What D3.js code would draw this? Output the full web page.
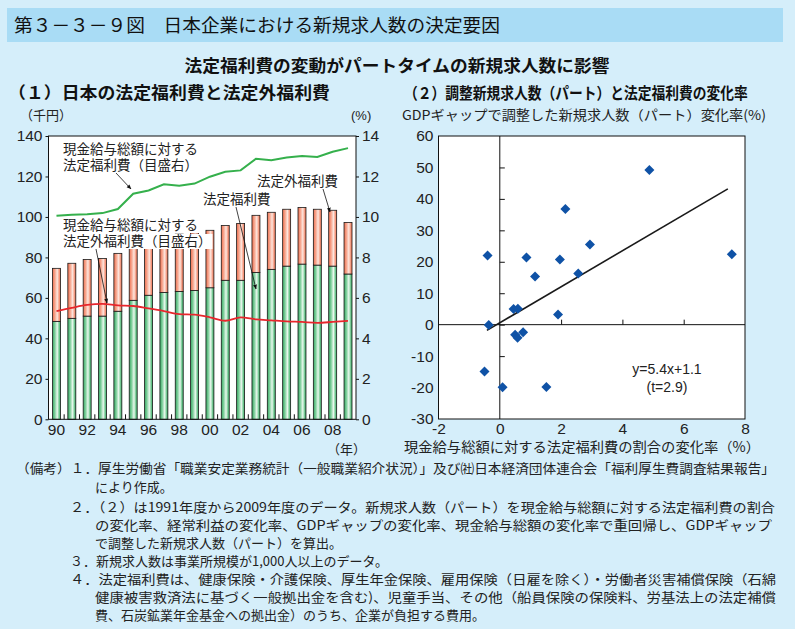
<!DOCTYPE html>
<html><head><meta charset="utf-8">
<script src="https://cdn.jsdelivr.net/npm/d3@7"></script>
<style>
body{margin:0;background:#d5eefa;}
svg{display:block}
text{font-family:"Liberation Sans","Noto Sans CJK JP",sans-serif;}
.jp{font-family:"Noto Sans CJK JP",sans-serif;}
</style>
</head><body>
<svg id="c" width="795" height="629"></svg>
<script>
// ---------- data ----------
const years = ["90","91","92","93","94","95","96","97","98","99","00","01","02","03","04","05","06","07","08","09"];
const yearTickLabels = ["90","92","94","96","98","00","02","04","06","08"];
const legalWelfare = [48.4,49.9,51.0,51.0,53.4,58.8,61.3,62.7,63.2,63.7,65.0,68.7,68.7,72.6,74.1,75.7,76.7,76.2,75.7,71.8];
const nonLegalWelfare = [26.2,27.2,28.0,28.5,28.6,27.2,28.7,28.3,28.3,28.5,28.4,27.1,28.1,28.2,28.2,28.1,28.0,27.6,27.6,25.5];
const legalRatio = [10.06,10.11,10.13,10.19,10.39,11.15,11.31,11.61,11.54,11.65,11.99,12.23,12.30,12.88,12.80,12.94,13.01,12.96,13.22,13.40];
const nonLegalRatio = [5.35,5.51,5.65,5.70,5.63,5.60,5.48,5.35,5.20,5.17,5.04,4.87,5.04,4.94,4.89,4.84,4.81,4.77,4.81,4.86];
const leftTicks = [0,20,40,60,80,100,120,140];
const rightTicks = [0,2,4,6,8,10,12,14];

const scatterX = [-0.40,-0.36,-0.50,0.09,0.45,0.59,0.50,0.58,0.76,0.87,1.15,1.90,1.96,2.14,1.52,2.56,2.94,4.88,7.57];
const scatterY = [22.0,-0.1,-14.9,-19.9,5.0,5.1,-3.2,-4.2,-2.4,21.4,15.3,3.2,20.7,36.8,-19.8,16.3,25.5,49.2,22.4];
const fitX = [-0.42,7.44];
const fitY = [-1.8,43.2];
const scatterXTicks = [-2,0,2,4,6,8];
const scatterYTicks = [-30,-20,-10,0,10,20,30,40,50,60];

const svg = d3.select("#c");
const defs = svg.append("defs");
const plain = d => String(d);

// gradients
function grad(id, edge, mid, light){
  const g = defs.append("linearGradient").attr("id",id).attr("x1","0").attr("x2","1").attr("y1","0").attr("y2","0");
  [[0,edge],[0.3,mid],[0.6,light],[0.8,mid],[1,edge]].forEach(([o,c])=>g.append("stop").attr("offset",o).attr("stop-color",c));
}
grad("gG","#36a862","#7fcf9c","#eaf8ee");
grad("gR","#f0704f","#f6a48c","#fde6de");
const mk = defs.append("marker").attr("id","arr").attr("viewBox","0 0 10 10").attr("refX",9).attr("refY",5)
  .attr("markerWidth",6).attr("markerHeight",6).attr("orient","auto");
mk.append("path").attr("d","M0,1L10,5L0,9Z").attr("fill","#111");

// ---------- header ----------
svg.append("rect").attr("x",7).attr("y",8).attr("width",776).attr("height",34).attr("fill","#a9dcf5");
svg.append("text").attr("class","jp").attr("x",14).attr("y",32).attr("font-size",18).attr("fill","#111")
  .attr("textLength",486).attr("lengthAdjust","spacingAndGlyphs")
  .text("第３－３－９図　日本企業における新規求人数の決定要因");
svg.append("text").attr("class","jp").attr("x",397).attr("y",72).attr("text-anchor","middle")
  .attr("font-size",16.5).attr("font-weight","bold").attr("fill","#111")
  .attr("textLength",425).attr("lengthAdjust","spacingAndGlyphs")
  .text("法定福利費の変動がパートタイムの新規求人数に影響");
svg.append("text").attr("class","jp").attr("x",8).attr("y",99).attr("font-size",16.5).attr("font-weight","bold").attr("fill","#111")
  .attr("textLength",322).attr("lengthAdjust","spacingAndGlyphs")
  .text("（１）日本の法定福利費と法定外福利費");
svg.append("text").attr("class","jp").attr("transform","translate(404,99) scale(0.86,1)")
  .attr("font-size",16).attr("font-weight","bold").attr("fill","#111")
  .text("（２）調整新規求人数（パート）と法定福利費の変化率");

// ---------- left chart ----------
const L = {x0:48.5, x1:356, y0:136, y1:419.3};
const xb = d3.scaleBand().domain(years).range([L.x0,L.x1]).paddingInner(0.48).paddingOuter(0.26);
const yl = d3.scaleLinear().domain([0,140]).range([L.y1,L.y0]);
const yr = d3.scaleLinear().domain([0,14]).range([L.y1,L.y0]);

svg.append("rect").attr("x",L.x0).attr("y",L.y0).attr("width",L.x1-L.x0).attr("height",L.y1-L.y0).attr("fill","#fff");

const tbl = years.map((y,i)=>({year:y, legal:legalWelfare[i], nonLegal:nonLegalWelfare[i]}));
const stack = d3.stack().keys(["legal","nonLegal"])(tbl);
const fills = {legal:"url(#gG)", nonLegal:"url(#gR)"};
stack.forEach(s=>{
  svg.append("g").selectAll("rect").data(s).join("rect")
    .attr("x",d=>xb(d.data.year)).attr("width",xb.bandwidth())
    .attr("y",d=>yl(d[1])).attr("height",d=>yl(d[0])-yl(d[1]))
    .attr("fill",fills[s.key]).attr("stroke","#1a1a1a").attr("stroke-width",0.8);
});

const cx = d=>xb(d)+xb.bandwidth()/2;
svg.append("path").datum(nonLegalRatio).attr("fill","none").attr("stroke","#e8262c").attr("stroke-width",1.8)
  .attr("d",d3.line().x((d,i)=>cx(years[i])).y(d=>yr(d)).curve(d3.curveMonotoneX));
svg.append("path").datum(legalRatio).attr("fill","none").attr("stroke","#35b04c").attr("stroke-width",2)
  .attr("d",d3.line().x((d,i)=>cx(years[i])).y(d=>yr(d)));

// frame
svg.append("rect").attr("x",L.x0).attr("y",L.y0).attr("width",L.x1-L.x0).attr("height",L.y1-L.y0)
  .attr("fill","none").attr("stroke","#111").attr("stroke-width",1);

// axes
const ga = svg.append("g").attr("transform",`translate(${L.x0},0)`)
  .call(d3.axisLeft(yl).tickValues(leftTicks).tickSize(3).tickPadding(3).tickFormat(plain));
const gb = svg.append("g").attr("transform",`translate(${L.x1},0)`)
  .call(d3.axisRight(yr).tickValues(rightTicks).tickSize(3).tickPadding(3).tickFormat(plain));
[ga,gb].forEach(g=>{g.select(".domain").remove(); g.selectAll("line").attr("stroke","#111");
  g.selectAll("text").attr("font-size",15.5).attr("fill","#222").attr("font-family","Liberation Sans, sans-serif");});
// bottom: boundary ticks + labels
const step = xb.step();
const bounds = years.slice(1).map(y=>xb(y)-(step-xb.bandwidth())/2);
svg.append("g").selectAll("line").data(bounds).join("line")
  .attr("x1",d=>d).attr("x2",d=>d).attr("y1",L.y1).attr("y2",L.y1-5).attr("stroke","#111");
const gx = svg.append("g").attr("transform",`translate(0,${L.y1})`)
  .call(d3.axisBottom(xb).tickValues(yearTickLabels).tickSize(0).tickPadding(5));
gx.select(".domain").remove();
gx.selectAll("text").attr("font-size",15.5).attr("fill","#222").attr("font-family","Liberation Sans, sans-serif");

svg.append("text").attr("class","jp").attr("x",20).attr("y",120).attr("font-size",13).attr("fill","#222").text("（千円）");
svg.append("text").attr("x",351).attr("y",120).attr("font-size",13).attr("fill","#222").text("(%)");
svg.append("text").attr("class","jp").attr("x",327).attr("y",454).attr("font-size",13).attr("fill","#222").text("（年）");

// annotations (multi-line labels as one text with tspans, white box behind each line)
function label(x,y,lines){
  const g = svg.append("g");
  const tx = g.append("text").attr("class","jp").attr("x",x).attr("y",y).attr("font-size",13.5).attr("fill","#222");
  lines.forEach((t,i)=>tx.append("tspan").attr("x",x).attr("dy",i?16:0).text(t));
  tx.selectAll("tspan").each(function(){
    const n=this, len=n.getComputedTextLength(), yy=+d3.select(n.parentNode).attr("y");
  });
  lines.forEach((t,i)=>{
    const w = tx.selectAll("tspan").nodes()[i].getComputedTextLength();
    g.insert("rect","text").attr("x",x-1).attr("y",y+i*16-12).attr("width",w+2).attr("height",15).attr("fill","#fff");
  });
}
function arrow(x1,y1,x2,y2){
  svg.append("line").attr("x1",x1).attr("y1",y1).attr("x2",x2).attr("y2",y2)
    .attr("stroke","#111").attr("stroke-width",0.8).attr("marker-end","url(#arr)");
}
label(63,154,["現金給与総額に対する","法定福利費（目盛右）"]);
label(257,186,["法定外福利費"]);
label(203,204,["法定福利費"]);
label(63,230,["現金給与総額に対する","法定外福利費（目盛右）"]);
arrow(116,173,131,189);
arrow(323,189,330,212);
arrow(236,207,256,289);
arrow(96,249,107,303);

// ---------- right chart ----------
const R = {x0:438.5, x1:745, y0:136, y1:419};
const xs = d3.scaleLinear().domain([-2,8]).range([R.x0,R.x1]);
const ys = d3.scaleLinear().domain([-30,60]).range([R.y1,R.y0]);
svg.append("rect").attr("x",R.x0).attr("y",R.y0).attr("width",R.x1-R.x0).attr("height",R.y1-R.y0)
  .attr("fill","#fff").attr("stroke","#111").attr("stroke-width",1);
// inner axes through zero
const gy0 = svg.append("g").attr("transform",`translate(${xs(0)},0)`)
  .call(d3.axisRight(ys).tickValues(scatterYTicks.filter(v=>v>-30&&v<60)).tickSize(5).tickFormat(""));
gy0.select(".domain").attr("d",`M0,${R.y0}V${R.y1}`).attr("stroke","#111");
gy0.selectAll("line").attr("stroke","#111");
const gx0 = svg.append("g").attr("transform",`translate(0,${ys(0)})`)
  .call(d3.axisTop(xs).tickValues([2,4,6]).tickSize(5).tickFormat(""));
gx0.select(".domain").attr("d",`M${R.x0},0H${R.x1}`).attr("stroke","#111");
gx0.selectAll("line").attr("stroke","#111");
// labels on frame
const gyl = svg.append("g").attr("transform",`translate(${R.x0},0)`)
  .call(d3.axisLeft(ys).tickValues(scatterYTicks).tickSize(0).tickPadding(5).tickFormat(plain));
const gxl = svg.append("g").attr("transform",`translate(0,${R.y1})`)
  .call(d3.axisBottom(xs).tickValues(scatterXTicks).tickSize(0).tickPadding(4).tickFormat(plain));
[gyl,gxl].forEach(g=>{g.select(".domain").remove();
  g.selectAll("text").attr("font-size",15.5).attr("fill","#222").attr("font-family","Liberation Sans, sans-serif");});

// fit line
svg.append("path").datum(fitX.map((x,i)=>[x,fitY[i]])).attr("fill","none").attr("stroke","#1a1a1a").attr("stroke-width",1.6)
  .attr("d",d3.line().x(d=>xs(d[0])).y(d=>ys(d[1])));
// points
svg.append("g").selectAll("path").data(scatterX.map((x,i)=>[x,scatterY[i]])).join("path")
  .attr("transform",d=>`translate(${xs(d[0])},${ys(d[1])})`)
  .attr("d","M0,-5L5,0L0,5L-5,0Z").attr("fill","#0f52a6");

const eq = svg.append("text").attr("x",667).attr("y",374).attr("text-anchor","middle").attr("font-size",14).attr("fill","#222");
eq.append("tspan").attr("x",667).text("y=5.4x+1.1");
eq.append("tspan").attr("x",667).attr("dy",18).text("(t=2.9)");

svg.append("text").attr("class","jp").attr("x",402).attr("y",120).attr("font-size",13.5).attr("fill","#222")
  .attr("textLength",364).attr("lengthAdjust","spacingAndGlyphs")
  .text("GDPギャップで調整した新規求人数（パート）変化率(%)");
svg.append("text").attr("class","jp").attr("x",404).attr("y",452).attr("font-size",14).attr("fill","#222")
  .attr("textLength",356).attr("lengthAdjust","spacingAndGlyphs")
  .text("現金給与総額に対する法定福利費の割合の変化率（%）");

// ---------- notes ----------
const notes = [
  [16,473,759,"（備考）１．厚生労働省「職業安定業務統計（一般職業紹介状況）」及び㈳日本経済団体連合会「福利厚生費調査結果報告」"],
  [95,492,0,"により作成。"],
  [70,512,705,"２．（２）は1991年度から2009年度のデータ。新規求人数（パート）を現金給与総額に対する法定福利費の割合"],
  [95,530,677,"の変化率、経常利益の変化率、GDPギャップの変化率、現金給与総額の変化率で重回帰し、GDPギャップ"],
  [95,548,0,"で調整した新規求人数（パート）を算出。"],
  [70,566,0,"３．新規求人数は事業所規模が1,000人以上のデータ。"],
  [70,584,706,"４．法定福利費は、健康保険・介護保険、厚生年金保険、雇用保険（日雇を除く）・労働者災害補償保険（石綿"],
  [95,602,681,"健康被害救済法に基づく一般拠出金を含む)、児童手当、その他（船員保険の保険料、労基法上の法定補償"],
  [95,620,0,"費、石炭鉱業年金基金への拠出金）のうち、企業が負担する費用。"]
];
notes.forEach(([x,y,w,t])=>{
  const tx = svg.append("text").attr("class","jp").attr("x",x).attr("y",y).attr("font-size",13).attr("fill","#222").text(t);
  if(w) tx.attr("textLength",w).attr("lengthAdjust","spacingAndGlyphs");
});
</script>
</body></html>
